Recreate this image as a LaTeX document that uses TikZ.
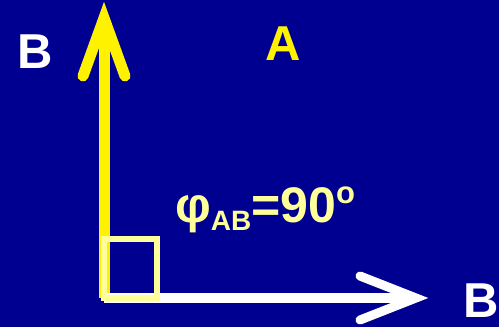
\documentclass[tikz,border=0pt]{standalone}
\usepackage{fontspec}
\setmainfont{Liberation Sans}
\usetikzlibrary{positioning, calc}

\definecolor{bgblue}{RGB}{0,0,144}
\definecolor{paleyellow}{RGB}{255,255,153}

\begin{document}
\begin{tikzpicture}[
    x=1pt, y=-1pt,
    axis/.style={line width=#1, line cap=round, line join=miter}, % Style for the two arrows
    biglabel/.style={font=\fontsize{49}{49}\selectfont\bfseries, anchor=base, inner sep=0pt} % Style for A and B
]

    % Background and picture size
    \fill[bgblue] (0,0) rectangle (499,327);
    \useasboundingbox (0,0) rectangle (499,327);

    % Origin and arrow tips
    \coordinate (O) at (104,298);
    \coordinate (Btip) at (104,18);
    \coordinate (Rtip) at (416,298);

    % Yellow vertical arrow
    \draw[axis=11pt, yellow, line cap=butt] (O) -- (Btip);
    \draw[axis=11pt, yellow] ($(Btip)+(-21,58)$) -- (Btip) -- ($(Btip)+(21,58)$);

    % White horizontal arrow
    \draw[axis=10pt, white, line cap=butt] (O) -- (Rtip);
    \draw[axis=9pt, white] ($(Rtip)+(-56,-22)$) -- (Rtip) -- ($(Rtip)+(-56,22)$);

    % Right angle mark
    \draw[paleyellow, line width=6pt] (104,239) rectangle (157,298);

    % Labels
    \node[biglabel, white] (Bleft) at (35,68) {B};
    \node[biglabel, yellow] (A) at (283.5,60) {A};
    \node[biglabel, white] (Bright) at (481,317) {B};

    % Angle between A and B
    \node[paleyellow, anchor=base west, inner sep=0pt,
          font=\fontsize{50}{50}\selectfont\bfseries] (phi) at (175,222)
        {φ\raisebox{-8pt}{\fontsize{28}{28}\selectfont AB}=90\raisebox{19pt}{\fontsize{31}{31}\selectfont o}};

\end{tikzpicture}
\end{document}
